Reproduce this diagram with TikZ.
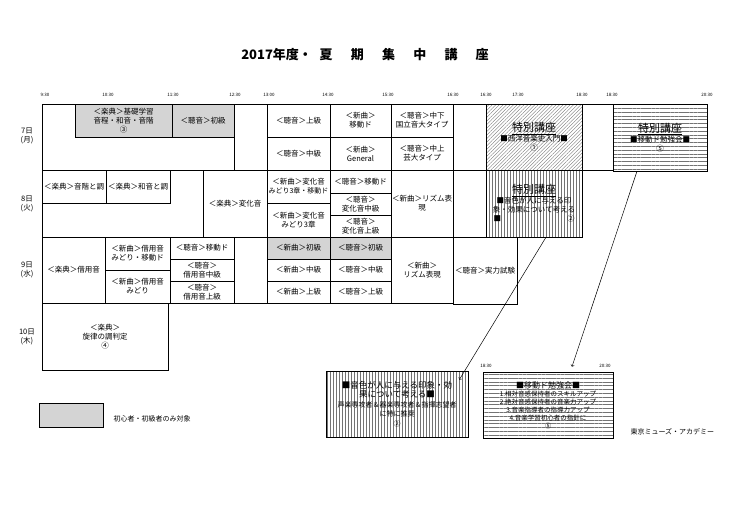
\documentclass[tikz,border=0pt]{standalone}
\usepackage{fontspec}
\setmainfont{Noto Sans CJK JP}
\usetikzlibrary{patterns.meta}

\begin{document}
\begin{tikzpicture}[x=1pt,y=-1pt]
            \tikzstyle{cell}=[draw, line width=0.7pt, inner sep=0pt,
            align=center, font=\fontsize{7.5}{9}\selectfont]
            \tikzstyle{beginner}=[cell, fill=black!17]
            \tikzstyle{special}=[cell, font=\fontsize{7.5}{9}\selectfont,
            pattern color=black!55]
            \tikzstyle{diag}=[pattern={Lines[angle=45,distance=2.5pt,line width=0.35pt]}]
            \tikzstyle{vlines}=[pattern={Lines[angle=90,distance=3pt,line width=0.4pt]}]
            \tikzstyle{hlines}=[pattern={Lines[angle=0,distance=3.8pt,line width=0.4pt]}]
            \tikzstyle{tick}=[font=\fontsize{4.5}{5}\selectfont]
            \tikzstyle{day}=[align=center, font=\fontsize{7.5}{8.5}\selectfont]
            \path[fill=white] (0,0) rectangle (750,530);
            \useasboundingbox (0,0) rectangle (750,530);

            \node (title) at (365,55) {\fontsize{13}{15}\selectfont\bfseries
              2017年度・\hspace{0.6em}夏\hspace{1.4em}期\hspace{1.4em}集\hspace{1.4em}中\hspace{1.4em}講\hspace{1.4em}座};

            % time scale
            \foreach \x/\t/\n in {45/9:30/t1, 108/10:30/t2, 173/11:30/t3,
              235/12:30/t4, 269/13:00/t5, 328/14:30/t6, 388/15:30/t7,
              453/16:30/t8, 486/16:30/t9, 518/17:30/t10, 582/18:30/t11,
              612/18:30/t12, 707/20:30/t13}
            \node[tick] (\n) at (\x,95) {\t};

            \foreach \y/\t/\n in {136/{7日\\(月)}/d7, 204/{8日\\(火)}/d8,
              270/{9日\\(水)}/d9, 337/{10日\\(木)}/d10}
            \node[day] (\n) at (27,\y) {\t};

            % plain cells
            \foreach \xa/\ya/\xb/\yb/\n/\t in {
              42/104/234/170/r7a/{},
              234/104/267/170/r7b/{},
              267/104/330/137/r7c/{＜聴音＞上級},
              267/137/330/170/r7d/{＜聴音＞中級},
              330/104/391/137/r7e/{＜新曲＞\\移動ド},
              330/137/391/170/r7f/{＜新曲＞\\General},
              391/104/453/137/r7g/{＜聴音＞中下\\国立音大タイプ},
              391/137/453/170/r7h/{＜聴音＞中上\\芸大タイプ},
              453/104/486/170/r7i/{},
              582/104/613/170/r7j/{},
              42/170/203/237/r8a/{},
              42/170/106/203/r8b/{＜楽典＞音階と調},
              106/170/170/203/r8c/{＜楽典＞和音と調},
              203/170/267/237/r8d/{＜楽典＞変化音},
              267/170/330/203/r8e/{＜新曲＞変化音\\{\fontsize{7}{8.5}\selectfont みどり3章・移動ド}},
              267/203/330/237/r8f/{＜新曲＞変化音\\みどり3章},
              330/170/391/193/r8g/{＜聴音＞移動ド},
              330/193/391/215/r8h/{＜聴音＞\\変化音中級},
              330/215/391/237/r8i/{＜聴音＞\\変化音上級},
              391/170/453/237/r8j/{＜新曲＞リズム表\\現},
              453/170/486/237/r8k/{},
              42/237/105/303/r9a/{＜楽典＞借用音},
              105/237/170/270/r9b/{＜新曲＞借用音\\みどり・移動ド},
              105/270/170/303/r9c/{＜新曲＞借用音\\みどり},
              170/237/234/259/r9d/{＜聴音＞移動ド},
              170/259/234/281/r9e/{＜聴音＞\\借用音中級},
              170/281/234/303/r9f/{＜聴音＞\\借用音上級},
              234/237/267/303/r9g/{},
              267/259/330/281/r9h/{＜新曲＞中級},
              267/281/330/303/r9i/{＜新曲＞上級},
              330/259/391/281/r9j/{＜聴音＞中級},
              330/281/391/303/r9k/{＜聴音＞上級},
              391/237/453/303/r9l/{＜新曲＞\\リズム表現},
              453/237/517/304/r9m/{＜聴音＞実力試験},
              42/303/168/370/r10a/{＜楽典＞\\旋律の調判定\\④}}
            \node[cell, minimum width={(\xb-\xa)*1pt},
              minimum height={(\yb-\ya)*1pt}] (\n)
              at ({(\xa+\xb)/2},{(\ya+\yb)/2}) {\t};

            % beginners only
            \foreach \xa/\ya/\xb/\yb/\n/\t in {
              75/104/172/137/g1/{＜楽典＞基礎学習\\音程・和音・音階\\③},
              172/104/234/137/g2/{＜聴音＞初級},
              267/237/330/259/g3/{＜新曲＞初級},
              330/237/391/259/g4/{＜聴音＞初級}}
            \node[beginner, minimum width={(\xb-\xa)*1pt},
              minimum height={(\yb-\ya)*1pt}] (\n)
              at ({(\xa+\xb)/2},{(\ya+\yb)/2}) {\t};

            % special lectures
            \node[special, diag, minimum width=96pt,
              minimum height=66pt] (sp7a) at (534,137)
              {{\fontsize{11}{13}\selectfont\underline{特別講座}}\\
               ■西洋音楽史入門■\\①};
            \node[special, hlines, minimum width=94pt,
              minimum height=67pt] (sp7b) at (660,137.5)
              {{\fontsize{11}{13}\selectfont\underline{特別講座}}\\
               ■移動ド勉強会■\\⑤};
            \node[special, vlines, minimum width=96pt,
              minimum height=67pt] (sp8) at (534,203.5)
              {{\fontsize{11}{13}\selectfont\underline{特別講座}}\\
               ■音色が人に与える印\\象・効果について考える\\
               ■\hspace{66pt}②};

            % details
            \node[special, vlines, minimum width=142pt,
              minimum height=66pt, font=\fontsize{8.5}{9.5}\selectfont]
              (boxA) at (397,404)
              {■音色が人に与える印象・効\\果について考える■\\
               {\fontsize{7}{8}\selectfont 声楽専攻者＆器楽専攻者＆指揮志望者}\\
               {\fontsize{7}{8}\selectfont に特に推奨}\\
               {\fontsize{7}{8}\selectfont ②}};
            \node[special, hlines, minimum width=130pt,
              minimum height=66pt, font=\fontsize{6.5}{8}\selectfont]
              (boxB) at (548,405)
              {{\fontsize{8}{9}\selectfont ■移動ド勉強会■}\\
               1.相対音感保持者のスキルアップ\\
               2.絶対音感保持者の音楽力アップ\\
               3.音楽指導者の指導力アップ\\
               4.音楽学習初心者の指針に\\⑤};
            \node[tick] (t14) at (486,366) {18:30};
            \node[tick] (t15) at (605,366) {20:30};

            \draw[->, line width=0.5pt] ([xshift=12pt]sp8.south)
              -- ([xshift=-9pt,yshift=-9pt]boxA.north east);
            \draw[->, line width=0.5pt] ([xshift=-23pt]sp7b.south)
              -- ([xshift=24pt,yshift=5pt]boxB.north);

            % legend
            \node[beginner, minimum width=64pt, minimum height=24pt]
              (legend) at (71,415) {};
            \node[anchor=west, font=\fontsize{7}{8}\selectfont]
              (legendtext) at (110,419) {初心者・初級者のみ対象};
            \node[anchor=west, font=\fontsize{7}{8}\selectfont]
              (academy) at (627,432) {東京ミューズ・アカデミー};
        \end{tikzpicture}
\end{document}
